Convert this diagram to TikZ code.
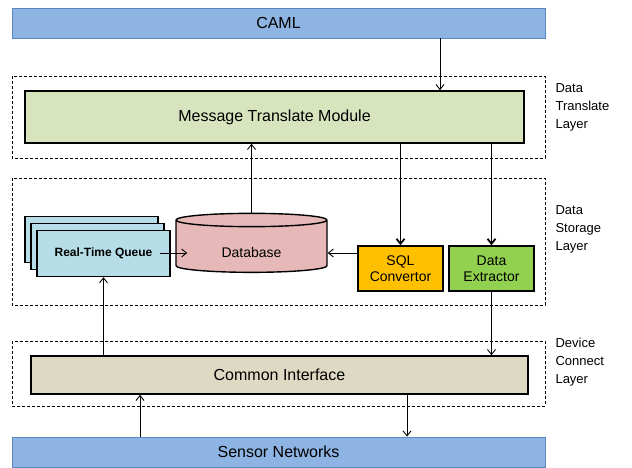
\documentclass[tikz,border=0pt]{standalone}
\usepackage{fontspec}
\setmainfont{Liberation Sans}
\usepackage{tikz}
\usetikzlibrary{arrows.meta}
\usetikzlibrary{shapes.geometric, shadows}
\definecolor{bleu}{HTML}{8EB4E3}
\definecolor{bleubord}{HTML}{5B87C0}
\definecolor{vertclair}{HTML}{D7E4BD}
\definecolor{cyanclair}{HTML}{B7DEE8}
\definecolor{rose}{HTML}{E6B9B8}
\definecolor{orange}{HTML}{FFC000}
\definecolor{vert}{HTML}{92D050}
\definecolor{beige}{HTML}{DDD9C3}

\tikzset{
    barre/.style={draw=bleubord, fill=bleu, line width=0.8pt, font=\fontsize{16}{18}\selectfont},
    module/.style={draw=black, line width=1.6pt, font=\fontsize{16}{18}\selectfont},
    boite/.style={draw=black, line width=1.6pt, align=center, font=\fontsize{14}{16}\selectfont},
    cadre/.style={dashed, line width=0.6pt, dash pattern=on 3pt off 2pt},
    fleche/.style={-{Straight Barb[length=5pt,width=8pt]}, line width=0.9pt},
    grosse/.style={-{Straight Barb[length=5pt,width=8pt]}, line width=1.8pt},
    couche/.style={anchor=north west, align=left, font=\fontsize{13}{18}\selectfont}
}

\begin{document}
\begin{tikzpicture}[x=1pt, y=-1pt]
        \useasboundingbox (0,0) rectangle (632,468);

        % Cadres en pointillés des couches
        \draw[cadre] (12,76) rectangle (545,158);
        \draw[cadre] (12,178) rectangle (545,305);
        \draw[cadre] (12,341) rectangle (545,406);

        % Noms des couches
        \node[couche] (ntraduction) at (552,80) {Data\\Translate\\Layer};
        \node[couche] (nstockage) at (552,202) {Data\\Storage\\Layer};
        \node[couche] (nconnexion) at (552,335) {Device\\Connect\\Layer};

        % Barres du haut et du bas
        \node[barre, minimum width=533pt, minimum height=30pt] (caml) at (278.5,23) {CAML};
        \node[barre, minimum width=533pt, minimum height=30pt] (capteurs) at (278.5,452) {Sensor Networks};

        % Modules
        \node[module, fill=vertclair, minimum width=499pt, minimum height=52pt] (traduction) at (274.5,117) {Message Translate Module};
        \node[module, fill=beige, minimum width=497pt, minimum height=38pt] (interface) at (279.5,375) {Common Interface};

        % File d'attente (trois feuilles)
        \node[draw=black, line width=1.4pt, fill=cyanclair, minimum width=133pt, minimum height=46pt,
              double copy shadow={shadow xshift=-6pt, shadow yshift=7pt},
              font=\bfseries\fontsize{12}{14}\selectfont] (file) at (103.5,253.5) {Real-Time Queue};

        % Base de données
        \node[cylinder, shape border rotate=90, draw=black, line width=1.4pt, cylinder uses custom fill,
              cylinder body fill=rose, cylinder end fill=rose, aspect=0.2,
              minimum width=151pt, minimum height=59pt, text height=20pt, text depth=0pt,
              font=\fontsize{14}{16}\selectfont] (base) at (251.5,247.5) {Database};

        % Convertisseur et extracteur
        \node[boite, fill=orange, minimum width=85pt, minimum height=45pt] (sql) at (400.5,268.5) {SQL\\Convertor};
        \node[boite, fill=vert, minimum width=85pt, minimum height=45pt] (extracteur) at (491.5,268.5) {Data\\Extractor};

        % Flèches
        \draw[fleche] (440,0 |- caml.south) -- (440,0 |- traduction.north);
        \draw[grosse] (sql.north |- traduction.south) -- (sql.north);
        \draw[grosse] (extracteur.north |- traduction.south) -- (extracteur.north);
        \draw[fleche] (base.north) -- (base.north |- traduction.south);
        \draw[fleche] (sql.west |- 0,253) -- (base.east |- 0,253);
        \draw[fleche] ([xshift=-11pt]file.east |- 0,253) -- ([xshift=12pt]base.west |- 0,253);
        \draw[fleche] (file.south |- interface.north) -- (file.south);
        \draw[fleche] (extracteur.south) -- (extracteur.south |- interface.north);
        \draw[fleche] (140,0 |- capteurs.north) -- (140,0 |- interface.south);
        \draw[fleche] (407,0 |- interface.south) -- (407,0 |- capteurs.north);
    \end{tikzpicture}
\end{document}
